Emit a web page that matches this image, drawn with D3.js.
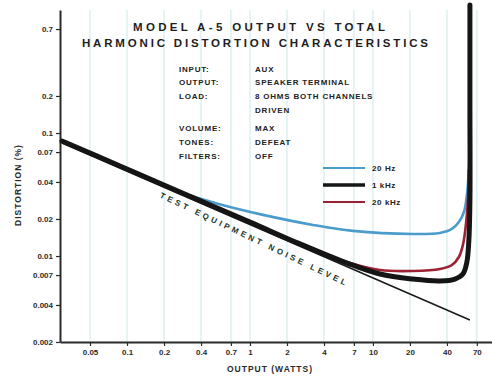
<!DOCTYPE html>
<html>
<head>
<meta charset="utf-8">
<script src="https://cdn.jsdelivr.net/npm/d3@7"></script>
<style>
  body { margin: 0; background: #fff; }
  svg { display: block; font-family: "Liberation Sans", Arial, sans-serif; }
</style>
</head>
<body>
<svg id="chart" width="492" height="376"></svg>
<script>
// tick values
const xTicks = [0.05, 0.1, 0.2, 0.4, 0.7, 1, 2, 4, 7, 10, 20, 40, 70];
const yTicks = [0.002, 0.004, 0.007, 0.01, 0.02, 0.04, 0.07, 0.1, 0.2, 0.7];

// [output W, THD %]
const noiseLevel = [[0.0296, 0.083], [61.5, 0.00302]];
const thd20Hz = [
  [0.0296, 0.0861], [0.0877, 0.054], [0.27, 0.0331], [0.519, 0.027], [1.28, 0.0216],
  [3.25, 0.0179], [6.88, 0.016], [21.1, 0.0151], [35.1, 0.0154], [43.9, 0.0166],
  [50.0, 0.0189], [55.0, 0.0228], [58.1, 0.0313], [60.3, 0.05], [61.5, 0.0877]
];
const thd1kHz = [
  [0.0296, 0.0861], [0.0877, 0.054], [0.27, 0.0331], [1, 0.0189], [2.55, 0.01254],
  [6.15, 0.00877], [11.4, 0.00714], [21.1, 0.0065], [35.1, 0.00627], [46.4, 0.0065],
  [53.9, 0.00714], [58.1, 0.00894], [60.3, 0.0135], [61.5, 0.0285], [61.5, 0.185], [61.5, 1.1]
];
const thd20kHz = [
  [0.0296, 0.0861], [0.27, 0.0331], [1, 0.0191], [2.55, 0.01265], [6.15, 0.00894],
  [11.4, 0.00769], [21.1, 0.00755], [35.1, 0.00783], [43.9, 0.00845], [50.0, 0.00982],
  [53.9, 0.01227], [57.0, 0.0179], [59.2, 0.0285], [60.3, 0.05]
];

const seriesNames = ["20 Hz", "1 kHz", "20 kHz"];
const seriesColors = ["#4a9ccc", "#151515", "#9c2233"];
const seriesWidths = [2.6, 5, 2.6];

const condLabels = ["INPUT:", "OUTPUT:", "LOAD:", "", "VOLUME:", "TONES:", "FILTERS:"];
const condValues = ["AUX", "SPEAKER TERMINAL", "8 OHMS BOTH CHANNELS", "DRIVEN", "MAX", "DEFEAT", "OFF"];
const condRows = [69, 82, 96, 110, 128, 142, 156];

const svg = d3.select("#chart");
const margin = { top: 10, right: 0, bottom: 34, left: 60 };
const width = +svg.attr("width");
const height = +svg.attr("height");

const x = d3.scaleLog().domain([0.0285, 93]).range([margin.left, width - margin.right]);
const y = d3.scaleLog().domain([0.002, 1]).range([height - margin.bottom, margin.top]);

// faint vertical rules
svg.append("g")
  .selectAll("line")
  .data(xTicks)
  .enter().append("line")
  .attr("x1", d => x(d)).attr("x2", d => x(d))
  .attr("y1", y(1)).attr("y2", y(0.002))
  .attr("stroke", "#dcf0f0")
  .attr("stroke-width", 1.5);

const fmt = d3.format("~g");

const xAxis = svg.append("g")
  .attr("transform", "translate(0," + y(0.002) + ")")
  .call(d3.axisBottom(x).tickValues(xTicks).tickFormat(fmt).tickSize(4).tickSizeOuter(0));

const yAxis = svg.append("g")
  .attr("transform", "translate(" + margin.left + ",0)")
  .call(d3.axisLeft(y).tickValues(yTicks).tickFormat(fmt).tickSize(4).tickSizeOuter(0));

[xAxis, yAxis].forEach(a => {
  a.select(".domain").attr("stroke", "#2a2a2a").attr("stroke-width", 2);
  a.selectAll(".tick line").attr("stroke", "#2a2a2a").attr("stroke-width", 1.2);
  a.selectAll(".tick text")
    .attr("fill", "#2a2a2a")
    .style("font-size", "8px")
    .style("font-weight", "bold");
});

svg.append("text")
  .attr("x", 270).attr("y", 372)
  .attr("text-anchor", "middle")
  .attr("fill", "#2a2a2a")
  .style("font-size", "8.5px").style("font-weight", "bold")
  .style("letter-spacing", "1px")
  .text("OUTPUT (WATTS)");

svg.append("text")
  .attr("transform", "translate(21,185) rotate(-90)")
  .attr("text-anchor", "middle")
  .attr("fill", "#2a2a2a")
  .style("font-size", "8.5px").style("font-weight", "bold")
  .style("letter-spacing", "1px")
  .text("DISTORTION (%)");

// title
svg.append("text")
  .attr("x", 133).attr("y", 31)
  .attr("textLength", 252).attr("lengthAdjust", "spacing")
  .attr("fill", "#1e1e1e")
  .style("font-size", "11.5px").style("font-weight", "bold")
  .text("MODEL A-5  OUTPUT VS TOTAL");
svg.append("text")
  .attr("x", 82).attr("y", 47)
  .attr("textLength", 346).attr("lengthAdjust", "spacing")
  .attr("fill", "#1e1e1e")
  .style("font-size", "11.5px").style("font-weight", "bold")
  .text("HARMONIC DISTORTION CHARACTERISTICS");

// measurement conditions
const cond = svg.append("g")
  .attr("fill", "#222")
  .style("font-size", "8px").style("font-weight", "bold")
  .style("letter-spacing", "0.8px");
cond.selectAll(".lab")
  .data(condLabels)
  .enter().append("text")
  .attr("class", "lab")
  .attr("x", 179)
  .attr("y", (d, i) => condRows[i] + 3)
  .text(d => d);
cond.selectAll(".val")
  .data(condValues)
  .enter().append("text")
  .attr("class", "val")
  .attr("x", 255)
  .attr("y", (d, i) => condRows[i] + 3)
  .text(d => d);

// curves
const line = d3.line()
  .x(d => x(d[0]))
  .y(d => y(d[1]));
const curve = d3.line()
  .curve(d3.curveCatmullRom.alpha(0.5))
  .x(d => x(d[0]))
  .y(d => y(d[1]));

svg.append("path")
  .attr("d", line(noiseLevel))
  .attr("fill", "none")
  .attr("stroke", "#1a1a1a")
  .attr("stroke-width", 1.6);

const seriesData = [thd20Hz, thd1kHz, thd20kHz];
[0, 2, 1].forEach(i => {
  svg.append("path")
    .attr("d", curve(seriesData[i]))
    .attr("fill", "none")
    .attr("stroke", seriesColors[i])
    .attr("stroke-width", seriesWidths[i])
    .attr("stroke-linejoin", "round")
    .attr("stroke-linecap", "round");
});

// label along the noise line
const p0 = [x(noiseLevel[0][0]), y(noiseLevel[0][1])];
const p1 = [x(noiseLevel[1][0]), y(noiseLevel[1][1])];
const ang = Math.atan2(p1[1] - p0[1], p1[0] - p0[0]) * 180 / Math.PI;
const lx = x(0.2);
const ly = p0[1] + (lx - p0[0]) * (p1[1] - p0[1]) / (p1[0] - p0[0]);
svg.append("text")
  .attr("transform", "translate(" + lx + "," + ly + ") rotate(" + (ang + 2) + ")")
  .attr("dy", 11)
  .attr("textLength", 205).attr("lengthAdjust", "spacing")
  .attr("fill", "#1d3326")
  .style("font-size", "8px").style("font-weight", "bold")
  .text("TEST EQUIPMENT NOISE LEVEL");

// legend
const legend = svg.append("g");
const legY = [168, 185, 202];
seriesNames.forEach((name, i) => {
  legend.append("line")
    .attr("x1", 323).attr("x2", 365)
    .attr("y1", legY[i]).attr("y2", legY[i])
    .attr("stroke", seriesColors[i])
    .attr("stroke-width", Math.min(seriesWidths[i], 4) - 0.4);
  legend.append("text")
    .attr("x", 372).attr("y", legY[i] + 3)
    .attr("fill", "#222")
    .style("font-size", "8px").style("font-weight", "bold")
    .style("letter-spacing", "0.6px")
    .text(name);
});
</script>
</body>
</html>
